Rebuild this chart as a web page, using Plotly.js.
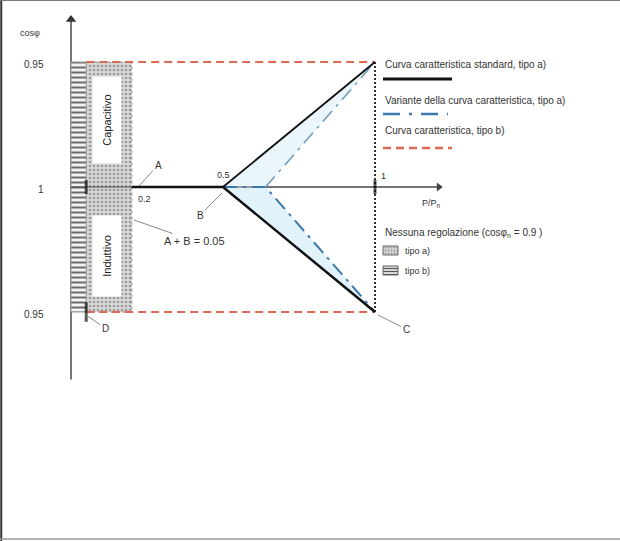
<!DOCTYPE html>
<html>
<head>
<meta charset="utf-8">
<script src="https://cdn.plot.ly/plotly-3.0.1.min.js"></script>
<style>
  html, body { margin: 0; padding: 0; background: #fff; }
  #chart { width: 620px; height: 541px; }
</style>
</head>
<body>
<div id="chart"></div>
<script>
// cosφ is plotted as an offset from unity: + capacitive side, − inductive side
const yTickVals = [0.05, 0, -0.05];
const yTickText = ['0.95', '1', '0.95'];
const xTickVals = [0.2, 0.5, 1];
const xTickText = ['0.2', '0.5', '1'];

// Standard characteristic curve, tipo a)
const stdX = [0.2, 0.5, 1];
const stdY = [0, 0, -0.05];
const stdCapX = [0.5, 1];
const stdCapY = [0, 0.05];

// Variant of the characteristic curve, tipo a)
const varX = [0.5, 0.64, 1];
const varY = [0, 0, -0.05];
const varCapX = [0.64, 1];
const varCapY = [0, 0.05];

// Characteristic curve, tipo b)
const tipoBX = [0.05, 1];
const tipoBCap = [0.05, 0.05];
const tipoBInd = [-0.05, -0.05];

// No-regulation zones
const zoneAX = [0.05, 0.2];
const zoneBX = [0, 0.05];
const zoneY = [-0.05, 0.05];

// Axis extents (arrows)
const xAxisEnd = 1.21;
const yAxisTop = 0.067;
const yAxisBottom = -0.077;

// Canvas-to-axis mapping for the full-frame plot area
const W = 620, H = 541;
const OX = 71, UX = 304;   // pixel of P/Pn = 0, pixels per unit
const OY = 187, UY = 2500; // pixel of cosφ = 1, pixels per unit
const X = px => (px - OX) / UX;
const Y = py => (OY - py) / UY;

const rectPath = (xs, ys) => ({
  x: [xs[0], xs[1], xs[1], xs[0], xs[0]],
  y: [ys[0], ys[0], ys[1], ys[1], ys[0]]
});

const BLUE = '#3b78ad';
const RED = '#dc6a52';
const BLACK = '#111';
const DASHDOT = '14px,6px,3px,6px';

const traces = [];

// axes with arrow heads
traces.push({ x: [0, xAxisEnd], y: [0, 0], mode: 'lines', line: { color: '#444', width: 1 } });
traces.push({ x: [0, 0], y: [yAxisBottom, yAxisTop], mode: 'lines', line: { color: '#555', width: 1.6 } });
traces.push({ x: [xAxisEnd], y: [0], mode: 'markers',
  marker: { symbol: 'triangle-right', size: 8, color: '#444' } });
traces.push({ x: [0], y: [yAxisTop], mode: 'markers',
  marker: { symbol: 'triangle-up', size: 9, color: '#333' } });

// zone tipo a) — dotted grey
const za = rectPath(zoneAX, zoneY);
traces.push({ x: za.x, y: za.y, mode: 'lines', fill: 'toself',
  fillcolor: '#d6d6d6',
  fillpattern: { shape: '.', fgcolor: '#9a9a9a', bgcolor: '#d9d9d9', size: 4, solidity: 0.35 },
  line: { color: '#8a8a8a', width: 1, dash: 'dot' }, hoverinfo: 'skip' });

// zone tipo b) — horizontal hatching
const zb = rectPath(zoneBX, zoneY);
traces.push({ x: zb.x, y: zb.y, mode: 'lines', fill: 'toself',
  fillcolor: '#f2f2f2',
  fillpattern: { shape: '-', fgcolor: '#6a6a6a', bgcolor: '#f3f3f3', size: 5, solidity: 0.4 },
  line: { color: '#9a9a9a', width: 1 }, hoverinfo: 'skip' });

// light blue band between standard and variant curves
traces.push({
  x: [stdX[1], stdX[2], varX[1], stdX[1]],
  y: [stdY[1], stdY[2], varY[1], stdY[1]],
  mode: 'lines', fill: 'toself', fillcolor: '#e2f2fb', line: { width: 0 }, hoverinfo: 'skip' });
traces.push({
  x: [stdCapX[0], stdCapX[1], varCapX[0], stdCapX[0]],
  y: [stdCapY[0], stdCapY[1], varCapY[0], stdCapY[0]],
  mode: 'lines', fill: 'toself', fillcolor: '#eaf6fc', line: { width: 0 }, hoverinfo: 'skip' });

// redraw the horizontal axis over the fills
traces.push({ x: [0, xAxisEnd], y: [0, 0], mode: 'lines', line: { color: '#444', width: 1 } });

// tipo b) limits
traces.push({ x: tipoBX, y: tipoBCap, mode: 'lines', line: { color: RED, width: 2, dash: '8px,5px' } });
traces.push({ x: tipoBX, y: tipoBInd, mode: 'lines', line: { color: RED, width: 2, dash: '8px,5px' } });

// right limit at P/Pn = 1
traces.push({ x: [1, 1], y: zoneY, mode: 'lines', line: { color: '#333', width: 2, dash: '2px,2px' } });

// variant curves
traces.push({ x: varX, y: varY, mode: 'lines', line: { color: BLUE, width: 2, dash: DASHDOT } });
traces.push({ x: varCapX, y: varCapY, mode: 'lines', line: { color: '#6d9ab5', width: 1.5, dash: DASHDOT } });

// standard curves
traces.push({ x: stdX, y: stdY, mode: 'lines', line: { color: BLACK, width: 2.5 } });
traces.push({ x: stdCapX, y: stdCapY, mode: 'lines', line: { color: BLACK, width: 1.8 } });

// marks on the axes
traces.push({ x: [zoneBX[1], zoneBX[1], 1], y: [0, -0.05, 0], mode: 'markers',
  marker: { symbol: 'line-ns', size: [10, 14, 10], line: { color: BLACK, width: 3 } } });

// legend samples
traces.push({ x: [X(383), X(452)], y: [Y(79), Y(79)], mode: 'lines', line: { color: BLACK, width: 3 } });
traces.push({ x: [X(383), X(448)], y: [Y(114), Y(114)], mode: 'lines', line: { color: BLUE, width: 2.5, dash: '17px,9px,3px,9px' } });
traces.push({ x: [X(383), X(452)], y: [Y(148), Y(148)], mode: 'lines', line: { color: RED, width: 2.5, dash: '8px,5px' } });

const iconA = rectPath([X(383), X(398)], [Y(255), Y(246)]);
traces.push({ x: iconA.x, y: iconA.y, mode: 'lines', fill: 'toself', fillcolor: '#d6d6d6',
  fillpattern: { shape: '.', fgcolor: '#9a9a9a', bgcolor: '#d9d9d9', size: 3, solidity: 0.35 },
  line: { color: '#666', width: 1 } });
const iconB = rectPath([X(383), X(398)], [Y(275), Y(266)]);
traces.push({ x: iconB.x, y: iconB.y, mode: 'lines', fill: 'toself', fillcolor: '#f2f2f2',
  fillpattern: { shape: '-', fgcolor: '#555', bgcolor: '#f3f3f3', size: 3, solidity: 0.45 },
  line: { color: '#666', width: 1 } });

const FONT = 'Liberation Sans, Arial, sans-serif';
const TXT = '#333';
const ann = [];

// y tick labels
yTickVals.forEach((v, i) => ann.push({ x: X(46), y: v, text: yTickText[i], showarrow: false,
  xanchor: 'right', yanchor: 'middle', yshift: -2, font: { family: FONT, size: 10, color: TXT } }));

// x tick labels
const xLabelShift = [[13, -12], [0, 12], [8, 11]];
xTickVals.forEach((v, i) => ann.push({ x: v, y: 0, text: xTickText[i], showarrow: false,
  xshift: xLabelShift[i][0], yshift: xLabelShift[i][1], font: { family: FONT, size: 9, color: TXT } }));

// axis titles
ann.push({ x: X(18), y: Y(33), text: 'cosφ', showarrow: false, xanchor: 'left',
  font: { family: FONT, size: 9, color: TXT } });
ann.push({ x: X(431), y: Y(203), text: 'P/P<sub>n</sub>', showarrow: false,
  font: { family: FONT, size: 9, color: TXT } });

// zone labels
ann.push({ x: X(107), y: Y(120), text: 'Capacitivo', textangle: -90, showarrow: false,
  bgcolor: '#fff', width: 84, height: 26, font: { family: FONT, size: 11, color: '#222' } });
ann.push({ x: X(107), y: Y(256), text: 'Induttivo', textangle: -90, showarrow: false,
  bgcolor: '#fff', width: 78, height: 26, font: { family: FONT, size: 11, color: '#222' } });

// point labels with leader lines
const leader = (px, py, text, ax, ay, size) => ann.push({
  x: X(px), y: Y(py), text: text, showarrow: true, arrowhead: 0, arrowwidth: 1,
  arrowcolor: '#888', ax: ax, ay: ay, standoff: 0,
  font: { family: FONT, size: size || 10, color: TXT } });
leader(139, 186, 'A', 19, -21);
leader(222, 193, 'B', -22, 22);
leader(134, 220, 'A + B = 0.05', 60, 21, 11);
leader(86, 315, 'D', 19, 13);
leader(378, 315, 'C', 28, 14);

// legend texts
const legText = (py, text) => ann.push({ x: X(383), y: Y(py), text: text, showarrow: false,
  xanchor: 'left', yanchor: 'middle', font: { family: FONT, size: 10, color: TXT } });
legText(64, 'Curva caratteristica standard, tipo a)');
legText(100, 'Variante della curva caratteristica, tipo a)');
legText(130, 'Curva caratteristica, tipo b)');
legText(233, 'Nessuna regolazione (cosφ<sub>n</sub> = 0.9 )');
ann.push({ x: X(403), y: Y(251), text: 'tipo a)', showarrow: false, xanchor: 'left',
  font: { family: FONT, size: 9, color: TXT } });
ann.push({ x: X(403), y: Y(271), text: 'tipo b)', showarrow: false, xanchor: 'left',
  font: { family: FONT, size: 9, color: TXT } });

// frame around the figure
const shapes = [
  { type: 'line', xref: 'paper', yref: 'paper', x0: 0.002, x1: 0.002, y0: 0, y1: 1, line: { color: '#333', width: 2 } },
  { type: 'line', xref: 'paper', yref: 'paper', x0: 0, x1: 1, y0: 0.999, y1: 0.999, line: { color: '#777', width: 1 } },
  { type: 'line', xref: 'paper', yref: 'paper', x0: 0, x1: 1, y0: 1 - 539 / H, y1: 1 - 539 / H, line: { color: '#999', width: 1.5 } }
];

const layout = {
  width: W, height: H,
  margin: { l: 0, r: 0, t: 0, b: 0 },
  paper_bgcolor: '#fff', plot_bgcolor: '#fff',
  showlegend: false,
  xaxis: { range: [X(0), X(W)], visible: false, fixedrange: true },
  yaxis: { range: [Y(H), Y(0)], visible: false, fixedrange: true },
  annotations: ann,
  shapes: shapes
};

Plotly.newPlot('chart', traces, layout, { staticPlot: true, displayModeBar: false });
</script>
</body>
</html>
